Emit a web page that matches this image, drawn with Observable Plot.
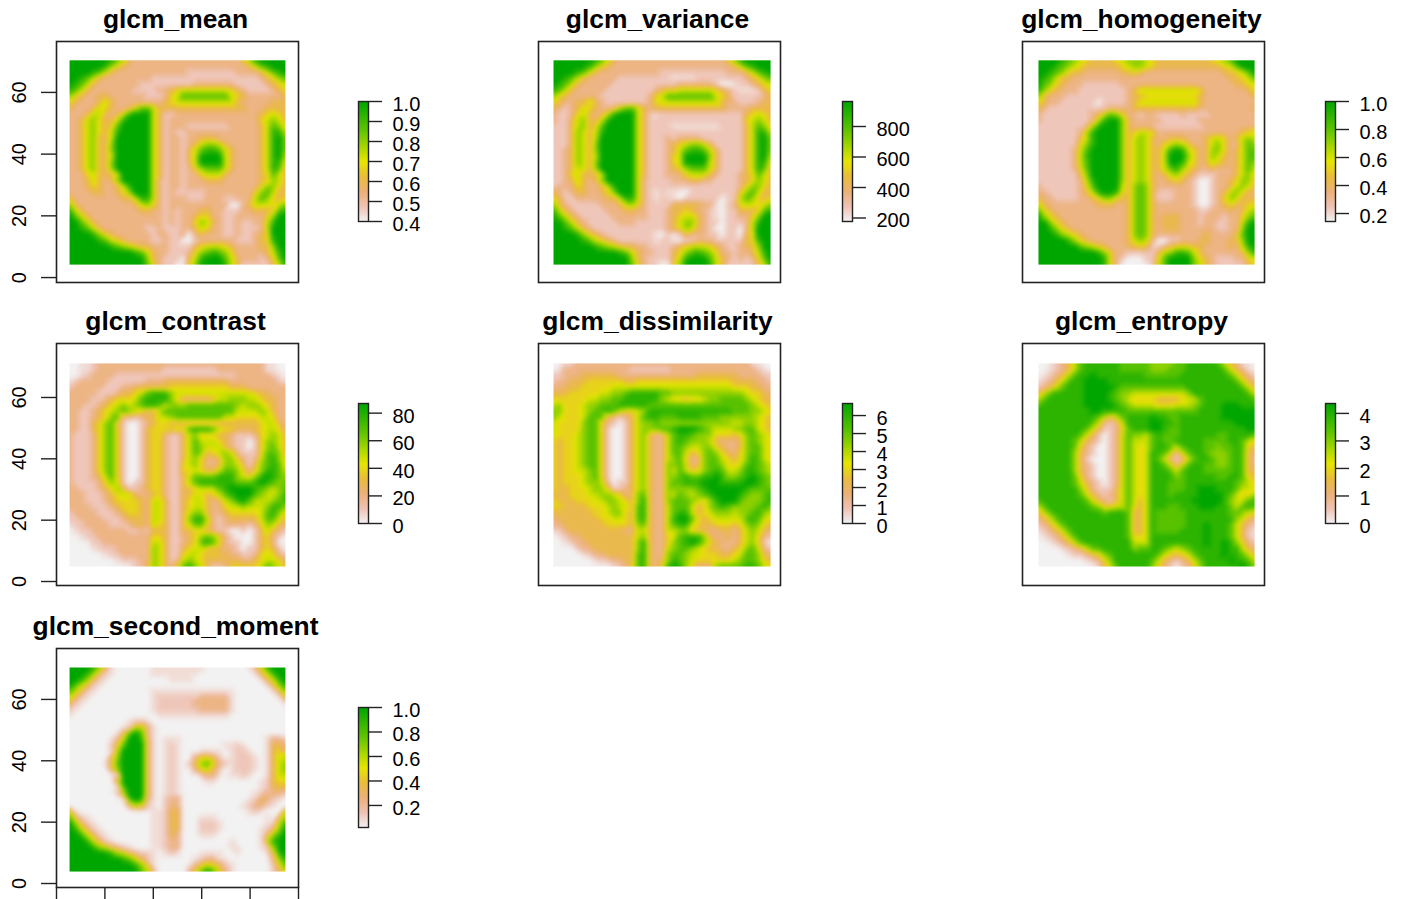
<!DOCTYPE html>
<html><head><meta charset="utf-8">
<style>html,body{margin:0;padding:0;background:#fff;overflow:hidden}#c{position:relative;width:1409px;height:899px;overflow:hidden;background:#fff}#c>div,#c>svg{position:absolute}</style>
<script src="https://cdn.jsdelivr.net/npm/d3@7"></script>
<script src="https://cdn.jsdelivr.net/npm/@observablehq/plot@0.6"></script>
</head><body><div id="c"></div><script>
// Each character is the level (0 low .. 9 high, a = half a level) for one raster cell; rows run top to bottom.
const meanRows=[
"9999999875 3222222222 2222222224 6899999","9999998643 2222222222 2222222222 3578999","9999875322 2222222222 1111111122 2235789","9987532222 2222111111 1111111111 1123467",
"9875322222 2211111111 1222222211 1112345","8753222222 2111122345 5555555432 1111234","6432233222 2221112457 7777777543 2222223","4322235322 2222223455 5555555532 2222333",
"3222354322 3577533333 3333333333 2223333","2223553235 8999531122 2222222222 2234543","2235643358 9999531222 2222222222 2245653","2235643479 9999531222 1111111222 2235764",
"2235643589 9999531211 2222222222 2235885","2235633599 9999531221 2233322222 2235896","2235633699 9999531221 2356653222 2235896","2235633699 9999531221 3578875322 2235896",
"2235633599 9999531221 3599995322 2235895","2235633699 9999531221 3599995322 2235884","2235633699 9999531221 2467775322 2235873","2224533359 9999531221 2245553222 2234753",
"2223532369 9999521221 2223332222 2234653","2223432235 8999521221 2222222222 2246643","2222332234 6999521211 1112222222 2467533","4222222223 3588521222 1112221122 2576434",
"6322222222 2356421222 2222222002 3555456","8532222222 2233221212 2233221112 2333478","9753222222 2222221212 2344221122 2224699","9975322222 2222221212 2465321121 1225899",
"9987532222 2221121112 2354221121 1125999","9999864322 2222122112 0232221121 1234999","9999987543 2222112110 0122222211 1234899","9999999876 5433222111 1345554322 2233699",
"9999999999 9875322111 2467876422 2223589","9999999999 9996321110 3589997532 2212479","9999999999 9997421100 4699998531 1111358"];
const varianceRows=[
"9999999875 3222222222 2222222224 6899999","9999998643 2222222222 2222222222 3578999","9999875322 2222222211 1111111112 2235789","9987532222 2111111111 aaaa111111 1123467",
"9875322222 1111111111 1222222100 a112345","8753222221 1111111234 4555555432 1aaa134","6432222211 1111112457 7777777543 1111123","4322335321 1111112455 5555555532 2111233",
"3212354322 3577532333 3333333332 2223333","2112453235 8999531a11 1111111111 1134543","2113563358 9999531111 1111111111 1145653","1113563479 9999531111 aaaaaaaa11 1135764",
"1113653589 9999531111 1111111111 1135885","1113653599 9999531112 1222211111 1135896","1113653699 9999531112 3456653111 1135896","1123653699 9999531112 3578875311 1135896",
"1123653599 9999531112 4599996311 1135895","1123653699 9999531112 4599995311 1135884","1123553699 9999531112 3467775311 1135873","1124533359 9999531112 2245553211 1234753",
"1123532369 9999521111 2223322111 1234653","1222432235 8999521111 1111111111 1246643","3212332234 6999521a1a a001111111 1467533","4311222223 3588521a11 a011111101 1576434",
"6321111122 2356421111 3333322a01 2455456","8532111112 2233221112 3343221a01 1333478","9753211111 2222221112 3455321a01 1224699","9975321111 1222111112 3566321101 1125899",
"9987532111 1111111112 3465321001 1025999","9999864321 1111111a01 0132221101 1034999","9999987543 2111111a11 a011222111 1134899","9999999876 5433221111 2345554321 1233699",
"9999999999 9875322111 3467876422 1223589","9999999999 9996321111 3589997532 1212479","9999999999 9997421100 4699998531 1111358"];
const homogeneityRows=[
"9999876543 3334566654 3333333334 5679999","9998765433 3333456654 3333333333 3457999","9987643322 2222334322 2222222222 2334579","9875332222 2222222222 2222222222 2233457",
"9764322211 1111222222 2222222222 2223345","8643222111 1111123555 5555555422 2222234","6322211111 1111123344 4444444322 2222223","4322111111 0111123555 5555555322 2222222",
"3211111111 1122223333 3333333222 2222223","2111111112 3576422122 1111211112 2222222","2111111112 5899632222 2111111222 2222222","1111111125 8999632222 1111111122 2222222",
"1111111258 9999634554 2222222222 2222345","1111111358 9999635653 2233322235 5423565","1111111468 9999635653 2456542235 6422576","1111112579 9999635653 3589854236 6423577",
"1111112589 9999635653 3599964236 5323577","1111112579 9999635653 3599854235 4323576","1111112479 9999635653 3578643223 2223575","1111111369 9999635653 2356432111 2223564",
"1111111258 9999635653 2234321001 2234663","2111111247 9999536763 2222221001 2235653","2211111235 8998436763 1112221001 2356432","3221111223 4664336763 1112221001 2465333",
"5322222222 3332236763 2222221001 2343344","7432222222 2222236763 2222222112 2232356","9643222222 2222236763 2333222122 2122467","9964322222 2222236763 2333222122 1122589",
"9986432222 2222236763 2333222222 1122699","9998654322 2222236763 2222222232 2223799","9999986432 2222235652 0011222332 2233699","9999999765 4322233431 1234443322 2232589",
"9999999999 8642211111 3568875322 2222368","9999999999 9842100011 4799996432 1112245","9999999999 9842000001 5799996532 1111134"];
const contrastRows=[
"00aa122222 2222222222 2222222222 222aa00","00aa122222 2222221111 1111122222 222aa00","00a1222211 1111111111 1111111122 22221a0","a122222111 1112223333 3333333222 222221a",
"1222221112 2333333444 4444444333 2222222","2222211123 3457888655 5555555555 5433222","2222112344 4578888642 2222355666 5543322","2221123456 5678875666 7777777765 6654322",
"2211234567 6543357777 7777777755 5565322","2211234672 2123355677 7777775544 4455422","2211346731 0012344333 3333333333 3345532","2211346741 0013444454 7888754433 3345542",
"2111246741 0013442113 5644433211 1245653","2111246741 0013442113 5755543211 0146653","2111246741 0013442113 5765553211 0146753","2111246741 0013442113 5763456521 1147763",
"2111246741 0013442113 5642236642 1257864","2111246741 0013442114 5642236653 1367874","2111246741 0013442114 4543357764 2468875","2111235741 0013442113 5777788865 4689876",
"2111124651 0113442113 5788888877 7898767","2211123463 1123442113 3455578999 9876567","2221112345 5322342113 3543457899 9765568","2221112344 4432553113 4553235689 7555678",
"2222111234 4432553113 4553224556 5556886","1222211123 4432553113 5663223444 4457864","1122221112 3332553113 6885212333 3357753","a112222111 2332543113 5774212222 1246532",
"0a11222222 1121333113 3443211001 0135321","00a1122222 2222443112 3467642100 0134210","0000112222 2222553112 3478742110 0134200","0000a11122 2222653113 4554332210 1134310",
"000000a112 2222653114 5543433221 1245421","00000000a1 1122653125 6543333332 2345542","0000000000 0113653247 8653112444 4457653"];
const dissimilarityRows=[
"00aa222222 2222222222 2222222222 222aa00","0a22222222 2221111111 2222222222 22221a0","1122233333 3222222222 2222333333 3222211","1223334444 4433444444 4444444444 3333221",
"2233344444 5555555555 5555555555 4443322","3334444455 6678888877 6666666666 6654432","4444445566 7788888865 4434456677 7765433","5644456677 7888887777 7777777777 7776543",
"6644456778 7544568888 8888888888 7776654","6544457773 2123578877 7888877766 6666543","5444467742 1013566766 6666666666 5566543","5444467741 0013566677 8999876555 6677543",
"5444567741 0013563225 7887666444 3467654","4344567741 0013563225 7876665322 2367654","4344567741 0013563225 7765566432 2367754","4344567741 0013563225 7753467643 2467754",
"4344567741 0013563225 6742267754 3468754","4344567741 0013563226 6752367764 4578765","4344556741 0013563226 5754467875 5688765","4344456741 0013563226 6787788986 6789876",
"4344456652 0113563226 7788899988 8899876","4334445664 1123563226 6666789999 9987777","3334445566 5423673226 5765678999 9876678","4333444556 6543683226 7776546899 9766678",
"4433334445 6553783225 7775346787 6666786","3333333445 6643783225 7885345666 5667865","2333333344 5543783225 8997434555 5578754","2233333334 4443673225 7885433444 3467643",
"a123333333 3322553225 5664332233 2356532","0a12233333 3333563224 5788863223 2356421","00a1223333 3333683224 6789864322 2356410","0000122333 3333683225 6776543322 3467521",
"00000a1223 3333783226 7765544433 4577632","0000000a11 2233783236 8765444444 5677643","0000000000 a124783248 9864222677 7788754"];
const entropyRows=[
"00a1235788 8888777776 6667788888 7532aa0","00a1235788 8888777776 6677788888 87532a0","0a12357889 8888888877 7777888888 887532a","a123578899 9988888888 8888888888 8887532",
"1235788899 9998777777 7777788888 8888753","3578888899 9987665555 5555568888 8888875","5788888899 9987654444 3333455788 8888887","7888888899 9998765555 4445556788 8999888",
"8888888889 9888877777 7777777888 8999999","8888888888 7535788889 8877888888 8999999","8888888887 5212588889 9887888888 8889999","8888888875 3112478889 9877888888 8888899",
"8888888753 1012576657 8777888888 7788887","8888887532 1012575557 8778888877 7788754","8888887421 0012575457 8875788877 6778743","8888886321 0012575458 8752578876 6678732",
"8888886310 0012575458 7521257887 6678732","8888886321 0012575458 8752578877 6678732","8888886321 0012575458 8875788877 7778733","8888887421 0012575458 8886788888 7788743",
"8888887532 1012575458 8877788888 8887654","8888888642 1113575458 8877788999 8887554","8888888753 2123575458 8878888999 9875446","7888888875 3213575358 8888889999 9865578",
"5788888887 6445574358 8877888999 8875787","3578888888 8788873358 7777788888 8877654","2357888888 8888873358 7777788888 8886532","1235788888 8888873358 7777788898 8875321",
"a123578888 8888873358 7777888898 887531a","0a12357888 8888874458 8888888898 887531a","00a1235788 8888885558 8888888898 8986421","0000a12357 7888886778 8765678888 8988532",
"00000a1123 4678888888 7543457888 8988753","00000000a1 2468888887 5321235788 8898875","0000000000 a357888886 4210124688 8888986"];
const secondMomentRows=[
"9999863a00 0000aaaaaa aaa0000000 a258999","9998631a00 0000aaaaaa aa00000000 0a35899","998631a000 0000000aaa a000000000 00a3589","97531a0000 0000000000 0000000000 000a368",
"7531a00000 0000aaaaaa aaaaaaaa00 0000a36","531a000000 0000a11111 1122222a00 00000a3","31a0000000 0000a11111 1222222a00 000000a","1a00000000 0000a11111 1122222a00 0000000",
"a000000000 00000aaaaa aaaaaaa000 0000000","0000000000 a11a000000 0000000000 0000000","000000000a 1552a00000 0000000000 0000000","00000000a3 7972a00000 0000000000 0000000",
"0000000a25 9983a0aaa0 0000000000 000a221","0000000147 9993a0a1a0 000000aa1a 000a332","0000000a59 9993a0a1a0 00aaaa0a11 a00a342","0000000369 9993a0a1a0 0244310a11 1a0a355",
"000000a379 9993a0a1a0 1367421a11 1a0a356","0000000369 9993a0a1a0 0245310a11 1a0a356","00000000a9 9993a0a1a0 00122a0aa1 a00a355","0000000049 9993a0a1a0 000aa00000 00a1344",
"00000000a7 9993a0a1a0 0000000000 00a1333","0000000015 9993a0a1a0 0000000000 0a12221","000000000a 7982a01220 0000000000 a1321a0","0000000000 3541a01220 000000000a 1221a00",
"5a00000000 0000aa1330 0000000000 a1a0005","731a000000 0000aa1330 00aaa00000 000a036","9631a00000 0000aa1330 00111a0000 000a158","98531a0000 0000aa1330 00111a0000 00a1369",
"998531a000 0000aa1320 00aaa00000 00a3689","9998531a00 0000aa1220 0000000a00 00a5899","9999865321 a000aa1220 0000000aa0 00a1699","9999999865 3211a0a1a0 00aaaa00a0 000a389",
"9999999998 7531a00000 0a122aa000 0000268","9999999999 9864a00000 a245431a00 0000147","9999999999 9975200000 2479742a00 0000125"];

const titles=["glcm_mean","glcm_variance","glcm_homogeneity","glcm_contrast","glcm_dissimilarity","glcm_entropy","glcm_second_moment"];
const allRows=[meanRows,varianceRows,homogeneityRows,contrastRows,dissimilarityRows,entropyRows,secondMomentRows];
const lows=[0.4,177,0.143,0,0,0,0.02];
const highs=[1.0,964,1.0,87,6.67,4.36,1.0];
const legendTicks=[[0.4,0.5,0.6,0.7,0.8,0.9,1.0],[200,400,600,800],[0.2,0.4,0.6,0.8,1.0],[0,20,40,60,80],[0,1,2,3,4,5,6],[0,1,2,3,4],[0.2,0.4,0.6,0.8,1.0]];
const legendDecimals=[1,0,1,0,0,0,1];
const yTicks=[0,20,40,60];
const xTicks=[0,20,40,60,80,100];
const terrainStops=[0,0.125,0.25,0.375,0.5,0.75,1];
const terrainColors=["#F2F2F2","#EFC2B3","#ECB176","#E9BD3A","#E6E600","#63C600","#00A600"];

// layout
const colFrame=[56,538,1022], colBar=[358,842,1325];
const colRaster=[[5.4,94.6],[6.2,95.9],[6.6,95.9]];
const rowFrame=[[41,241],[343,242],[648,239]];
const rowBar=[101,403,707];
const rowY=[[-1.6,76.5],[-1.3,77.6],[-1.3,76.6]];
const rowRaster=[[4.2,70.4],[4.9,71.1],[3.9,70.4]];
const host=document.getElementById("c");
const font={fontFamily:"'Liberation Sans',Arial,sans-serif",background:"transparent",overflow:"visible"};

titles.forEach((title,k)=>{
  const col=k%3,row=Math.floor(k/3),lo=lows[k],hi=highs[k];
  const color={type:"linear",domain:terrainStops.map(f=>lo+f*(hi-lo)),range:terrainColors,clamp:true};
  const [xa,xb]=colRaster[col],[ya,yb]=rowRaster[row];
  const cells=[];
  allRows[k].forEach((r,j)=>{
    const s=r.replace(/ /g,"");
    for(let i=0;i<37;i++){
      const ch=s[i]??s[s.length-1];
      const lev=ch==="a"?0.5:+ch;
      cells.push({x:xa+(xb-xa)*i/36,y:yb+(ya-yb)*j/34,v:lo+lev/9*(hi-lo)});
    }
  });
  const left=col===0?56:0;
  const marks=[
    Plot.raster(cells,{x:"x",y:"y",fill:"v",x1:xa,x2:xb,y1:ya,y2:yb,interpolate:"barycentric",pixelSize:1,blur:1.5}),
    Plot.frame({stroke:"#222",strokeWidth:1.6}),
    Plot.text([title],{frameAnchor:"top",text:d=>d,dy:-22,dx:-2,fontSize:26.4,fontWeight:"bold",fill:"#000",lineAnchor:"middle"})
  ];
  if(col===0) marks.push(Plot.axisY(yTicks,{anchor:"left",tickSize:15,tickPadding:16,tickRotate:-90,fontSize:20,label:null,stroke:"#222",strokeWidth:1.4}));
  if(k===6) marks.push(Plot.axisX(xTicks,{anchor:"bottom",tickSize:14,tickFormat:()=>"",label:null,stroke:"#222",strokeWidth:1.4}));
  const [ft,fh]=rowFrame[row];
  const p=Plot.plot({width:left+242+2,height:41+fh+18,marginTop:41,marginBottom:18,marginLeft:left,marginRight:2,
    x:{domain:[0,100],axis:null},y:{domain:rowY[row],axis:null},color,style:font,marks});
  p.style.left=(colFrame[col]-left)+"px";p.style.top=(ft-41)+"px";
  host.appendChild(p);

  const fmt=d3.format("."+legendDecimals[k]+"f");
  const lg=Plot.plot({width:102,height:128,marginTop:4,marginBottom:4,marginLeft:2,marginRight:90,
    x:{domain:[0,1],axis:null},y:{domain:[lo,hi],axis:null},color,style:font,marks:[
    Plot.raster({fill:(x,y)=>y,x1:0,x2:1,y1:lo,y2:hi,pixelSize:1}),
    Plot.frame({stroke:"#222",strokeWidth:1.4}),
    Plot.axisY(legendTicks[k],{anchor:"right",tickSize:13,tickFormat:()=>"",label:null,stroke:"#222",strokeWidth:1.4}),
    Plot.text(legendTicks[k],{y:d=>d,frameAnchor:"right",text:d=>fmt(d),textAnchor:"start",dx:24,dy:3,fontSize:20,fill:"#000"})
  ]});
  lg.style.left=(colBar[col]-2)+"px";lg.style.top=(rowBar[row]-4)+"px";
  host.appendChild(lg);
});
</script></body></html>
